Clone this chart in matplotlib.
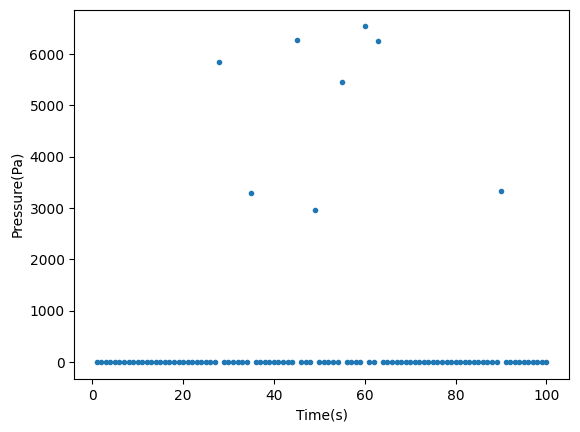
import numpy as np
import matplotlib
matplotlib.use("Agg")
import matplotlib.pyplot as plt

time_s = np.arange(1, 101)
spike_times = [28, 35, 45, 49, 55, 60, 63, 90]
spike_values = [5850, 3300, 6270, 2960, 5460, 6540, 6250, 3330]

pressure = np.zeros(len(time_s))
for t, v in zip(spike_times, spike_values):
    pressure[t - 1] = v

fig = plt.figure(figsize=(5.8, 4.32), dpi=100)
ax = fig.add_axes([0.128, 0.123, 0.853, 0.855])
ax.plot(time_s, pressure, ".", color="#1f77b4")
ax.set_xlabel("Time(s)")
ax.set_ylabel("Pressure(Pa)")
fig.savefig("out.png")
